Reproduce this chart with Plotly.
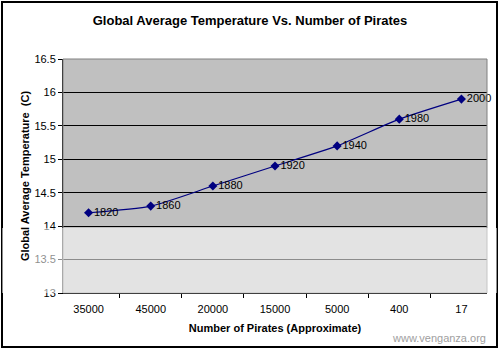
import plotly.graph_objects as go

categories = ["35000", "45000", "20000", "15000", "5000", "400", "17"]
temperatures = [14.2, 14.3, 14.6, 14.9, 15.2, 15.6, 15.9]
years = ["1820", "1860", "1880", "1920", "1940", "1980", "2000"]
y_ticks = [13, 13.5, 14, 14.5, 15, 15.5, 16, 16.5]

W, H = 500, 350
L, R, T, B = 63, 13, 59, 57
pw, ph = W - L - R, H - T - B

def px(x):
    return (x - L) / pw

def py(y):
    return (H - B - y) / ph

fig = go.Figure()
fig.add_trace(go.Scatter(
    x=categories, y=temperatures, text=years,
    mode="lines+markers+text", textposition="middle right",
    line=dict(color="#000080", width=1.2, shape="spline", smoothing=0.6),
    marker=dict(symbol="diamond", size=7, color="#000080"),
    textfont=dict(family="Liberation Sans, Arial", size=11, color="#000000"),
    cliponaxis=False, hoverinfo="skip",
))

fig.update_layout(
    width=W, height=H,
    margin=dict(l=L, r=R, t=T, b=B),
    paper_bgcolor="white", plot_bgcolor="#c0c0c0",
    showlegend=False,
    font=dict(family="Liberation Sans, Arial", size=11, color="#000000"),
    title=dict(text="<b>Global Average Temperature Vs. Number of Pirates</b>",
               x=0.5, xanchor="center", y=1 - 20 / H, yanchor="middle",
               font=dict(size=13)),
    xaxis=dict(type="category", tickson="boundaries", ticks="outside", ticklen=4,
               tickcolor="#000", showgrid=False, showline=True, linecolor="#000",
               mirror=False, tickfont=dict(size=11), ticklabelstandoff=6,
               title=dict(text="<b>Number of Pirates (Approximate)</b>",
                          font=dict(size=11), standoff=10)),
    yaxis=dict(range=[13, 16.5], tickvals=y_ticks, ticktext=[f"{v:g}" for v in y_ticks],
               ticks="outside", ticklen=4, tickcolor="#000",
               showgrid=True, gridcolor="#000000", gridwidth=1,
               showline=True, linecolor="#000", zeroline=False,
               tickfont=dict(size=11),
               title=dict(text="<b>Global Average Temperature  (C)</b>",
                          font=dict(size=11), standoff=2)),
)

# outer frame of the image
fig.add_shape(type="rect", xref="paper", yref="paper",
              x0=px(2), x1=px(497), y0=py(347), y1=py(2),
              line=dict(color="#000", width=2), fillcolor="rgba(0,0,0,0)", layer="above")
# plot area border
fig.add_shape(type="rect", xref="paper", yref="paper",
              x0=0, x1=1, y0=0, y1=1,
              line=dict(color="#808080", width=1), fillcolor="rgba(0,0,0,0)", layer="above")
# light banner band over lower area
fig.add_shape(type="rect", xref="paper", yref="paper",
              x0=px(2), x1=px(497), y0=0, y1=py(228),
              line=dict(width=0), fillcolor="rgba(255,255,255,0.55)", layer="above")

fig.add_annotation(text="www.venganza.org", xref="paper", yref="paper",
                   x=px(488), y=py(338), xanchor="right", yanchor="middle",
                   showarrow=False, font=dict(size=11, color="#a0a0a0"))

fig.write_html("out.html")
